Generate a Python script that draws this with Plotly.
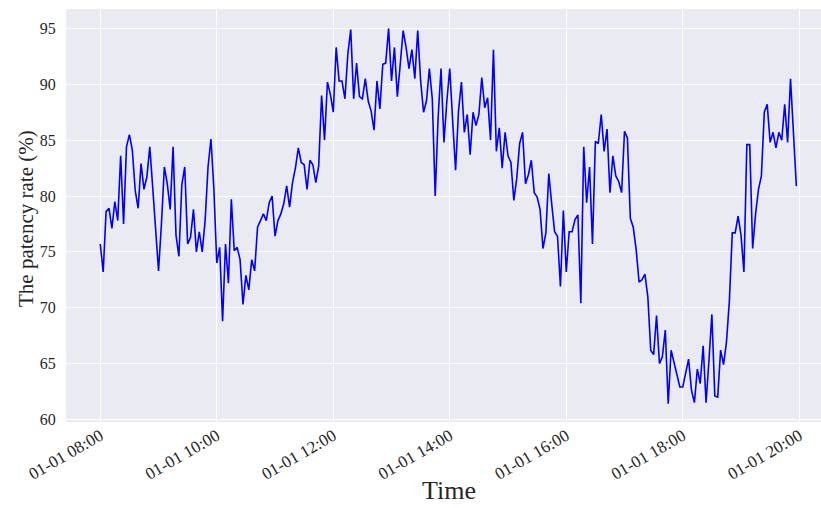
import plotly.graph_objects as go
import pandas as pd

start_time = "2024-01-01 08:00"
step_minutes = 3
patency_rate = [
    75.7, 73.2, 78.6, 78.9, 77.1, 79.5, 77.8, 83.6, 77.5, 84.4,
    85.5, 84.1, 80.5, 78.9, 82.9, 80.6, 81.7, 84.4, 80.8, 76.6,
    73.3, 77.5, 82.6, 81.1, 78.8, 84.4, 76.5, 74.6, 81.0, 82.6,
    75.7, 76.3, 78.8, 75.0, 76.8, 75.0, 77.8, 82.6, 85.1, 80.7,
    74.0, 75.4, 68.8, 75.7, 72.2, 79.7, 75.1, 75.4, 74.3, 70.3,
    72.9, 71.6, 74.3, 73.3, 77.2, 77.8, 78.4, 77.8, 79.4, 80.0,
    76.4, 77.8, 78.4, 79.3, 80.9, 79.0, 81.2, 82.5, 84.3, 83.0,
    82.8, 80.6, 83.2, 82.8, 81.2, 82.7, 89.0, 85.0, 90.2, 89.1,
    87.5, 93.3, 90.3, 90.3, 88.7, 92.7, 94.9, 88.7, 91.9, 88.9,
    88.7, 90.5, 88.5, 87.6, 85.9, 90.3, 87.8, 91.8, 91.9, 95.0,
    90.3, 93.3, 88.9, 91.8, 94.8, 93.3, 91.4, 93.1, 90.5, 94.8,
    90.3, 87.5, 88.5, 91.4, 88.7, 80.0, 87.0, 91.4, 84.8, 88.5,
    91.4, 86.7, 82.3, 87.6, 90.2, 85.7, 87.3, 83.7, 87.5, 86.3,
    87.3, 90.6, 87.9, 88.8, 85.0, 93.1, 84.0, 86.1, 82.5, 85.7,
    83.6, 83.0, 79.6, 81.6, 84.7, 85.7, 81.1, 81.9, 83.2, 80.3,
    79.9, 78.8, 75.3, 76.7, 82.0, 79.3, 76.8, 76.4, 71.9, 78.7,
    73.2, 76.8, 76.8, 77.9, 78.3, 70.4, 84.4, 79.4, 82.6, 75.7,
    84.9, 84.7, 87.3, 84.0, 86.0, 80.3, 83.6, 81.8, 81.3, 80.3,
    85.8, 85.2, 78.0, 77.2, 75.2, 72.3, 72.5, 73.0, 71.0, 66.2,
    65.8, 69.3, 65.0, 65.6, 68.0, 61.4, 66.2, 65.1, 63.9, 62.9,
    62.9, 64.1, 65.4, 62.6, 61.5, 64.5, 63.2, 66.6, 61.5, 65.3,
    69.4, 62.1, 62.0, 66.2, 64.9, 66.9, 70.6, 76.7, 76.7, 78.2,
    76.5, 73.2, 84.6, 84.6, 75.3, 78.4, 80.6, 81.8, 87.5, 88.2,
    84.8, 85.7, 84.3, 85.7, 85.0, 88.2, 84.8, 90.5, 85.6, 80.9,
]
times = pd.date_range(start_time, periods=len(patency_rate), freq=f"{step_minutes}min")

tick_times = pd.date_range("2024-01-01 08:00", "2024-01-01 20:00", freq="2h")
tick_labels = ["01-01 08:00", "01-01 10:00", "01-01 12:00", "01-01 14:00",
               "01-01 16:00", "01-01 18:00", "01-01 20:00"]
y_ticks = [60, 65, 70, 75, 80, 85, 90, 95]

font_family = "Liberation Serif, DejaVu Serif, serif"

fig = go.Figure()
fig.add_trace(go.Scatter(x=times, y=patency_rate, mode="lines",
                         line=dict(color="#0000FF", width=1.6)))

x0 = pd.Timestamp("2024-01-01 08:00") - pd.Timedelta(minutes=35.3)
x1 = pd.Timestamp("2024-01-01 08:00") + pd.Timedelta(minutes=742.4)

fig.update_layout(
    width=821, height=508,
    margin=dict(l=66, r=0, t=9, b=86),
    paper_bgcolor="white",
    plot_bgcolor="#EAEAF2",
    showlegend=False,
    font=dict(family=font_family, color="#262626", size=15),
    xaxis=dict(
        type="date",
        range=[x0, x1],
        automargin=False,
        tickvals=tick_times, ticktext=tick_labels,
        tickangle=-30,
        showgrid=True, gridcolor="white", gridwidth=1.2,
        zeroline=False, showline=False,
        ticks="",
        tickfont=dict(size=17, family=font_family),
    ),
    yaxis=dict(
        range=[59.77, 96.74],
        automargin=False,
        tickvals=y_ticks,
        showgrid=True, gridcolor="white", gridwidth=1.2,
        zeroline=False, showline=False,
        ticks="outside", ticklen=6, tickcolor="rgba(0,0,0,0)",
        tickfont=dict(size=16, family=font_family),
    ),
    annotations=[
        dict(text="Time", xref="paper", yref="paper", x=0.507, y=-0.167,
             xanchor="center", yanchor="middle", showarrow=False, borderpad=0,
             font=dict(size=26, family=font_family, color="#262626")),
        dict(text="The patency rate (%)", xref="paper", yref="paper",
             x=-0.053, y=0.494, textangle=-90,
             xanchor="center", yanchor="middle", showarrow=False,
             font=dict(size=21, family=font_family, color="#262626")),
    ],
)

fig.write_html("out.html", config={"displayModeBar": False},
               post_script="document.body.style.margin='0px';")
